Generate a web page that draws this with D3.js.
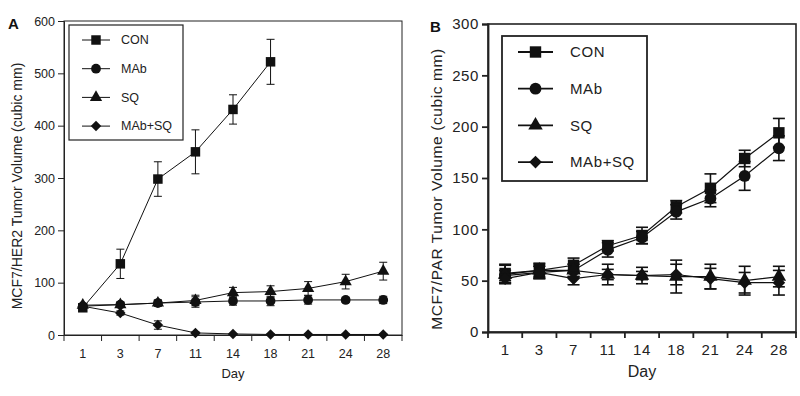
<!DOCTYPE html>
<html>
<head>
<meta charset="utf-8">
<script src="https://cdn.jsdelivr.net/npm/d3@7"></script>
<style>
  body { margin: 0; background: #fff; }
  svg { font-family: "Liberation Sans", Arial, sans-serif; }
</style>
</head>
<body>
<svg id="chart" width="800" height="396"></svg>
<script>
const days = ["1", "3", "7", "11", "14", "18", "21", "24", "28"];
const seriesNames = ["CON", "MAb", "SQ", "MAb+SQ"];

// Panel A: MCF7/HER2
const yTicksA = [0, 100, 200, 300, 400, 500, 600];
const conA = [52, 136, 298, 350, 431, 522];
const conErrA = [3, 28, 33, 42, 28, 43];
const mabA = [55, 58, 61, 63, 65, 65, 67, 67, 67];
const mabErrA = [3, 5, 6, 10, 8, 9, 8, 5, 7];
const sqA = [57, 58, 61, 66, 81, 83, 89, 102, 122];
const sqErrA = [3, 4, 5, 10, 10, 11, 13, 14, 17];
const comboA = [55, 42, 19, 4, 2, 1, 1, 1, 1];
const comboErrA = [3, 4, 8, 2, 1, 1, 1, 1, 1];

// Panel B: MCF7/PAR
const yTicksB = [0, 50, 100, 150, 200, 250, 300];
const conB = [57, 60, 65, 84, 94, 122, 140, 169, 194];
const conErrB = [9, 6, 7, 5, 8, 6, 14, 8, 14];
const mabB = [55, 58, 60, 80, 92, 117, 130, 152, 179];
const mabErrB = [5, 6, 6, 7, 6, 7, 8, 14, 12];
const sqB = [56, 60, 60, 56, 55, 54, 54, 50, 54];
const sqErrB = [9, 7, 6, 10, 8, 16, 12, 14, 10];
const comboB = [52, 58, 52, 56, 55, 56, 52, 48, 48];
const comboErrB = [4, 6, 6, 5, 4, 10, 10, 10, 12];

// square turned on its corner, as in the original figure
const symbolRhombus = {
	draw(ctx, size) {
		const r = Math.sqrt(size / 2);
		ctx.moveTo(0, -r);
		ctx.lineTo(r, 0);
		ctx.lineTo(0, r);
		ctx.lineTo(-r, 0);
		ctx.closePath();
	}
};

const symbols = [d3.symbolSquare, d3.symbolCircle, d3.symbolTriangle, symbolRhombus];
const svg = d3.select("#chart");

const drawPanel = (p) => {
	const g = svg.append("g");

	const x = d3.scaleBand()
		.domain(days)
		.range([p.left, p.right])
		.padding(0);

	const y = d3.scaleLinear()
		.domain([0, p.yTicks[p.yTicks.length - 1]])
		.range([p.bottom, p.top]);

	const cx = d => x(d) + x.bandwidth() / 2;

	// frame
	g.append("rect")
		.attr("x", p.left)
		.attr("y", p.top)
		.attr("width", p.right - p.left)
		.attr("height", p.bottom - p.top)
		.attr("fill", "none")
		.attr("stroke", "#222")
		.attr("stroke-width", p.frameW);

	// y axis
	const yAxis = g.append("g")
		.attr("transform", "translate(" + p.left + ",0)")
		.call(d3.axisLeft(y).tickValues(p.yTicks).tickSize(p.tickLen).tickPadding(3));
	yAxis.select(".domain").attr("stroke", "#222").attr("stroke-width", p.axisW);
	yAxis.selectAll(".tick line").attr("stroke", "#222").attr("stroke-width", p.axisW);
	yAxis.selectAll("text")
		.attr("fill", "#222")
		.attr("font-size", p.tickFont)
		.attr("letter-spacing", p.spacing);

	// x axis: labels centred in bands, tick marks on band edges
	const xAxis = g.append("g")
		.attr("transform", "translate(0," + p.bottom + ")")
		.call(d3.axisBottom(x).tickSize(0).tickPadding(p.xPad));
	xAxis.select(".domain").attr("stroke", "#222").attr("stroke-width", p.axisW);
	xAxis.selectAll("text")
		.attr("fill", "#222")
		.attr("font-size", p.tickFont)
		.attr("letter-spacing", p.spacing);
	xAxis.selectAll(".edge")
		.data(days.map(d => x(d)).concat([x.range()[1]]))
		.join("line")
		.attr("x1", d => d).attr("x2", d => d)
		.attr("y1", 0).attr("y2", p.tickLen)
		.attr("stroke", "#222")
		.attr("stroke-width", p.axisW);

	g.append("text")
		.attr("x", (p.left + p.right) / 2)
		.attr("y", p.bottom + p.dayOff)
		.attr("text-anchor", "middle")
		.attr("font-size", p.labelFont)
		.attr("fill", "#222")
		.text("Day");

	g.append("text")
		.attr("transform", "translate(" + p.yLabelX + "," + p.yLabelY + ") rotate(-90)")
		.attr("text-anchor", "middle")
		.attr("font-size", p.yLabelFont)
		.attr("letter-spacing", p.spacing)
		.attr("fill", "#222")
		.text(p.yLabel);

	g.append("text")
		.attr("x", p.letterX)
		.attr("y", p.letterY)
		.attr("font-size", 15)
		.attr("font-weight", "bold")
		.attr("fill", "#111")
		.text(p.letter);

	// series
	p.series.forEach((s, i) => {
		const pts = s.values.map((v, j) => ({ day: days[j], v: v, e: s.errs[j] }));
		const sg = g.append("g");

		sg.append("path")
			.datum(pts)
			.attr("fill", "none")
			.attr("stroke", "#111")
			.attr("stroke-width", p.lineW)
			.attr("d", d3.line().x(d => cx(d.day)).y(d => y(d.v)));

		const eb = sg.selectAll(".err")
			.data(pts)
			.join("g");
		eb.append("line")
			.attr("x1", d => cx(d.day)).attr("x2", d => cx(d.day))
			.attr("y1", d => y(d.v - d.e)).attr("y2", d => y(d.v + d.e));
		eb.append("line")
			.attr("x1", d => cx(d.day) - p.cap).attr("x2", d => cx(d.day) + p.cap)
			.attr("y1", d => y(d.v + d.e)).attr("y2", d => y(d.v + d.e));
		eb.append("line")
			.attr("x1", d => cx(d.day) - p.cap).attr("x2", d => cx(d.day) + p.cap)
			.attr("y1", d => y(d.v - d.e)).attr("y2", d => y(d.v - d.e));
		eb.selectAll("line")
			.attr("stroke", "#111")
			.attr("stroke-width", p.errW);

		sg.selectAll(".mk")
			.data(pts)
			.join("path")
			.attr("transform", d => "translate(" + cx(d.day) + "," + y(d.v) + ")")
			.attr("d", d3.symbol(symbols[i], p.sizes[i]))
			.attr("fill", "#111");
	});

	// legend
	const lg = g.append("g");
	lg.append("rect")
		.attr("x", p.leg.x)
		.attr("y", p.leg.y)
		.attr("width", p.leg.w)
		.attr("height", p.leg.h)
		.attr("fill", "#fff")
		.attr("stroke", "#222")
		.attr("stroke-width", p.leg.strokeW);

	const item = lg.selectAll(".item")
		.data(seriesNames)
		.join("g")
		.attr("transform", (d, i) => "translate(" + p.leg.lineX + "," + (p.leg.firstY + i * p.leg.step) + ")");
	item.append("line")
		.attr("x1", 0).attr("x2", p.leg.lineLen)
		.attr("stroke", "#111")
		.attr("stroke-width", p.leg.lineW);
	item.append("path")
		.attr("transform", "translate(" + p.leg.lineLen / 2 + ",0)")
		.attr("d", (d, i) => d3.symbol(symbols[i], p.sizes[i])())
		.attr("fill", "#111");
	item.append("text")
		.attr("x", p.leg.textX)
		.attr("dy", "0.35em")
		.attr("font-size", p.leg.font)
		.attr("letter-spacing", p.spacing)
		.attr("fill", "#222")
		.text(d => d);
};

drawPanel({
	letter: "A", letterX: 8, letterY: 29,
	left: 64, right: 402, top: 21, bottom: 335,
	yTicks: yTicksA,
	yLabel: "MCF7/HER2 Tumor Volume (cubic mm)", yLabelX: 22, yLabelY: 186, yLabelFont: 14,
	tickFont: 12.5, labelFont: 13, spacing: 0, xPad: 14, dayOff: 43,
	tickLen: 6, axisW: 1, frameW: 1, lineW: 1, errW: 1, cap: 4,
	sizes: [90, 75, 65, 55],
	series: [
		{ values: conA, errs: conErrA },
		{ values: mabA, errs: mabErrA },
		{ values: sqA, errs: sqErrA },
		{ values: comboA, errs: comboErrA }
	],
	leg: { x: 69, y: 25, w: 114, h: 115, strokeW: 1.2, lineX: 82, lineLen: 28, lineW: 1,
		firstY: 40, step: 28.7, textX: 39, font: 12.5 }
});

drawPanel({
	letter: "B", letterX: 430, letterY: 32,
	left: 488, right: 796, top: 24, bottom: 332,
	yTicks: yTicksB,
	yLabel: "MCF7/PAR Tumor Volume (cubic mm)", yLabelX: 442, yLabelY: 189, yLabelFont: 15.5,
	tickFont: 15, labelFont: 16, spacing: 0.6, xPad: 12, dayOff: 45,
	tickLen: 6, axisW: 1.8, frameW: 1.6, lineW: 1.2, errW: 1.6, cap: 6,
	sizes: [130, 110, 90, 80],
	series: [
		{ values: conB, errs: conErrB },
		{ values: mabB, errs: mabErrB },
		{ values: sqB, errs: sqErrB },
		{ values: comboB, errs: comboErrB }
	],
	leg: { x: 502, y: 36, w: 145, h: 145, strokeW: 1.8, lineX: 518, lineLen: 35, lineW: 1.8,
		firstY: 52, step: 36.7, textX: 52, font: 15 }
});
</script>
</body>
</html>
